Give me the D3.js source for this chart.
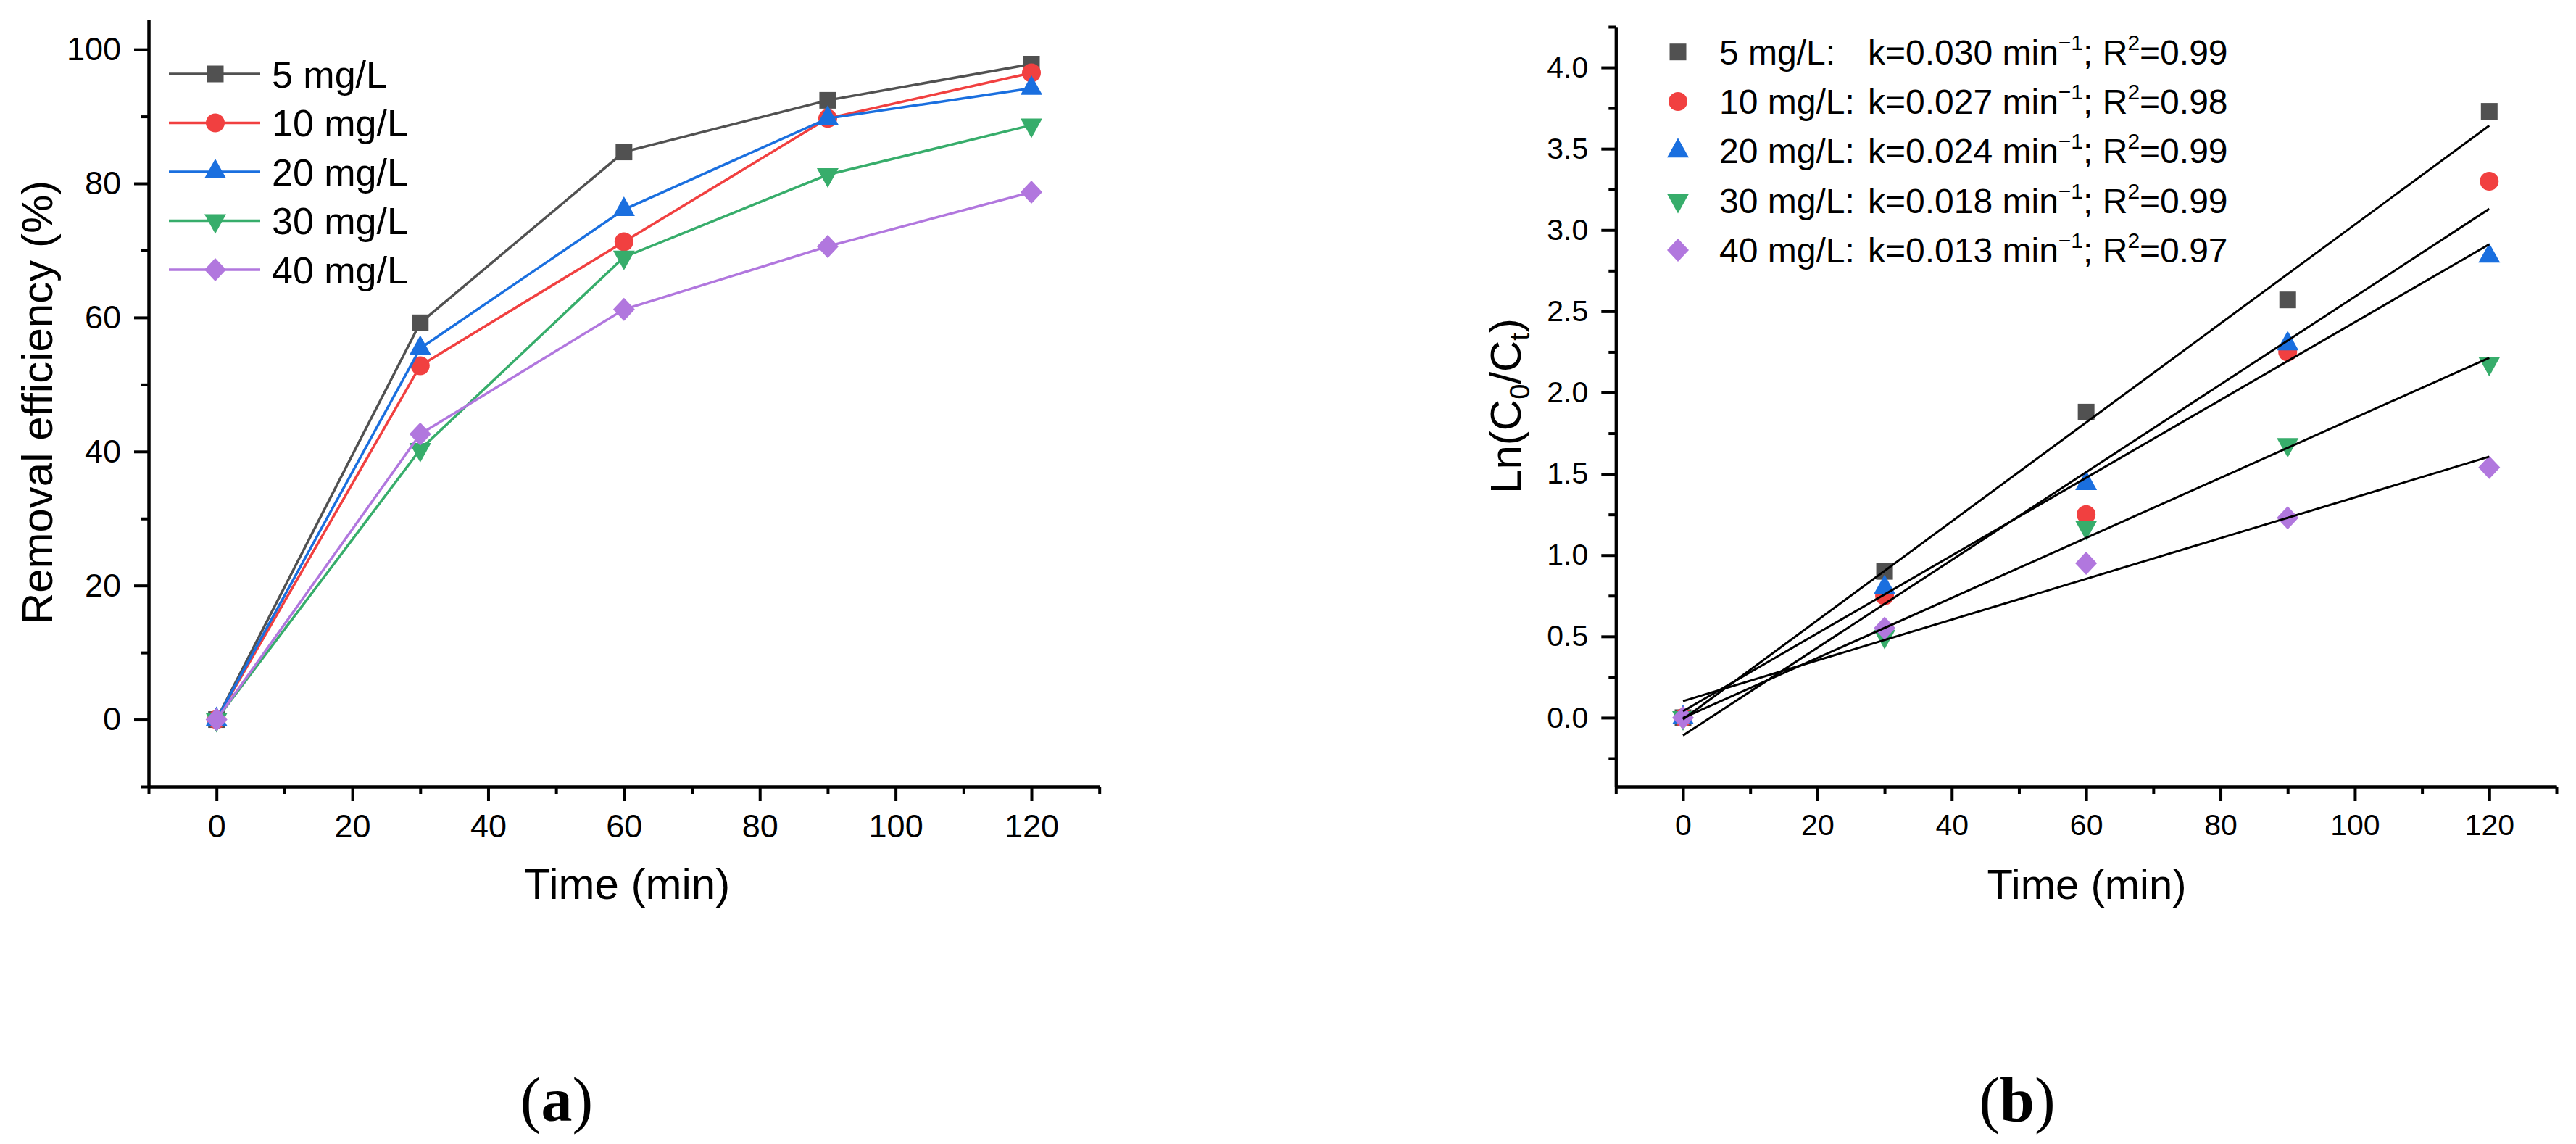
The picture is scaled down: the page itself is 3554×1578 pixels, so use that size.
<!DOCTYPE html>
<html>
<head>
<meta charset="utf-8">
<script src="https://d3js.org/d3.v7.min.js"></script>
<style>
  body { margin: 0; background: #ffffff; }
  text { font-family: "Liberation Sans", Arial, sans-serif; fill: #000; }
</style>
</head>
<body>
<script>
// data
var times = [0, 30, 60, 90, 120];
var concLabels = ["5 mg/L", "10 mg/L", "20 mg/L", "30 mg/L", "40 mg/L"];

// (a) removal efficiency, %
var removal5  = [0, 59.2, 84.7, 92.4, 97.8];
var removal10 = [0, 52.8, 71.3, 89.7, 96.5];
var removal20 = [0, 55.4, 76.1, 89.7, 94.2];
var removal30 = [0, 40.3, 69.0, 81.3, 88.7];
var removal40 = [0, 42.6, 61.2, 70.6, 78.7];

// (b) Ln(C0/Ct)
var lnRatio5  = [0, 0.90, 1.88, 2.57, 3.73];
var lnRatio10 = [0, 0.75, 1.25, 2.25, 3.30];
var lnRatio20 = [0, 0.80, 1.44, 2.30, 2.84];
var lnRatio30 = [0, 0.50, 1.17, 1.68, 2.18];
var lnRatio40 = [0, 0.55, 0.95, 1.23, 1.54];

var kValues  = ["0.030", "0.027", "0.024", "0.018", "0.013"];
var r2Values = ["0.99", "0.98", "0.99", "0.99", "0.97"];

var xTicks = [0, 20, 40, 60, 80, 100, 120];
var xMinorTicks = [-10, 10, 30, 50, 70, 90, 110, 130];
var yTicksA = [0, 20, 40, 60, 80, 100];
var yMinorTicksA = [-10, 10, 30, 50, 70, 90];
var yTicksB = [0, 0.5, 1.0, 1.5, 2.0, 2.5, 3.0, 3.5, 4.0];
var yMinorTicksB = [-0.25, 0.25, 0.75, 1.25, 1.75, 2.25, 2.75, 3.25, 3.75, 4.25];

document.addEventListener("DOMContentLoaded", function(){
  var width = 3554;
  var height = 1578;
  var colors = ["#515151", "#F14040", "#1A6FDF", "#37AD6B", "#B177DE"];
  var shapes = ["square", "circle", "up", "down", "diamond"];
  var removal = [removal5, removal10, removal20, removal30, removal40];
  var lnRatio = [lnRatio5, lnRatio10, lnRatio20, lnRatio30, lnRatio40];

  var svg = d3.select("body").append("svg")
              .attr("width", width)
              .attr("height", height);
  svg.append("rect").attr("width", width).attr("height", height).attr("fill", "#fff");

  // marker shapes, centred on the point (triangles on their centroid)
  function marker(shape) {
    var p = d3.path();
    if (shape == "square") { p.rect(-11.5, -11.5, 23, 23); }
    else if (shape == "circle") { p.arc(0, 0, 13, 0, 2 * Math.PI); }
    else if (shape == "up") { p.moveTo(0, -18); p.lineTo(15, 9); p.lineTo(-15, 9); p.closePath(); }
    else if (shape == "down") { p.moveTo(0, 18); p.lineTo(15, -9); p.lineTo(-15, -9); p.closePath(); }
    else { p.moveTo(0, -16); p.lineTo(15, 0); p.lineTo(0, 16); p.lineTo(-15, 0); p.closePath(); }
    return p.toString();
  }

  function drawAxes(x, y, yMajor, yMinor, fmt, fontSize) {
    var base = y.range()[0];
    var left = x.range()[0];
    var gx = svg.append("g").attr("transform", "translate(0," + base + ")")
      .call(d3.axisBottom(x).tickValues(xTicks).tickSize(20).tickSizeOuter(0).tickPadding(18));
    svg.append("g").attr("transform", "translate(0," + base + ")")
      .call(d3.axisBottom(x).tickValues(xMinorTicks).tickSize(10).tickSizeOuter(0).tickFormat(""));
    var gy = svg.append("g").attr("transform", "translate(" + left + ",0)")
      .call(d3.axisLeft(y).tickValues(yMajor).tickSize(20).tickSizeOuter(0).tickPadding(18).tickFormat(fmt));
    svg.append("g").attr("transform", "translate(" + left + ",0)")
      .call(d3.axisLeft(y).tickValues(yMinor).tickSize(10).tickSizeOuter(0).tickFormat(""));
    svg.selectAll(".domain").style("stroke-width", "4px").style("stroke", "#000");
    svg.selectAll(".tick line").style("stroke-width", "4px").style("stroke", "#000");
    gx.selectAll("text").style("font-size", fontSize + "px").style("font-family", "Liberation Sans, Arial");
    gy.selectAll("text").style("font-size", fontSize + "px").style("font-family", "Liberation Sans, Arial");
  }

  // ---------- (a) ----------
  var xA = d3.scaleLinear().domain([-10, 130]).range([205, 1516.7]);
  var yA = d3.scaleLinear().domain([-10, 104.45]).range([1085, 27]);
  drawAxes(xA, yA, yTicksA, yMinorTicksA, d3.format("d"), 45);

  var lineA = d3.line()
    .x(function(d, i) { return xA(times[i]); })
    .y(function(d) { return yA(d); });

  removal.forEach(function(series, s) {
    svg.append("path").datum(series)
      .attr("d", lineA)
      .attr("fill", "none")
      .attr("stroke", colors[s])
      .attr("stroke-width", 3.5);
    svg.selectAll(null).data(series).enter().append("path")
      .attr("d", marker(shapes[s]))
      .attr("fill", colors[s])
      .attr("transform", function(d, i) { return "translate(" + xA(times[i]) + "," + yA(d) + ")"; });
  });

  concLabels.forEach(function(lab, s) {
    var ly = 102 + s * 67.5;
    svg.append("line").attr("x1", 233).attr("x2", 359).attr("y1", ly).attr("y2", ly)
      .attr("stroke", colors[s]).attr("stroke-width", 3.5);
    svg.append("path").attr("d", marker(shapes[s])).attr("fill", colors[s])
      .attr("transform", "translate(297," + ly + ")");
    svg.append("text").attr("x", 375).attr("y", ly + 18.5)
      .style("font-size", "52px").text(lab);
  });

  svg.append("text").attr("x", 865).attr("y", 1240).attr("text-anchor", "middle")
    .style("font-size", "60px").text("Time (min)");
  svg.append("text").attr("transform", "translate(72,555) rotate(-90)").attr("text-anchor", "middle")
    .style("font-size", "60px").text("Removal efficiency (%)");

  // ---------- (b) ----------
  var xB = d3.scaleLinear().domain([-10, 130]).range([2229.3, 3527]);
  var yB = d3.scaleLinear().domain([-0.424, 4.25]).range([1085, 37]);
  drawAxes(xB, yB, yTicksB, yMinorTicksB, d3.format(".1f"), 41);

  lnRatio.forEach(function(series, s) {
    svg.selectAll(null).data(series).enter().append("path")
      .attr("d", marker(shapes[s]))
      .attr("fill", colors[s])
      .attr("transform", function(d, i) { return "translate(" + xB(times[i]) + "," + yB(d) + ")"; });
  });

  // linear fits of Ln(C0/Ct) vs t
  lnRatio.forEach(function(series) {
    var mx = d3.mean(times), my = d3.mean(series);
    var sxy = d3.sum(times, function(t, i) { return (t - mx) * (series[i] - my); });
    var sxx = d3.sum(times, function(t) { return (t - mx) * (t - mx); });
    var b = sxy / sxx, a = my - b * mx;
    var t0 = times[0], t1 = times[times.length - 1];
    svg.append("line")
      .attr("x1", xB(t0)).attr("y1", yB(a + b * t0))
      .attr("x2", xB(t1)).attr("y2", yB(a + b * t1))
      .attr("stroke", "#000").attr("stroke-width", 3);
  });

  concLabels.forEach(function(lab, s) {
    var ly = 71.7 + s * 68.3;
    svg.append("path").attr("d", marker(shapes[s])).attr("fill", colors[s])
      .attr("transform", "translate(2315," + ly + ")");
    svg.append("text").attr("x", 2372).attr("y", ly + 17)
      .style("font-size", "48px").text(lab + ":");
    var t = svg.append("text").attr("x", 2577).attr("y", ly + 17).style("font-size", "48px");
    t.append("tspan").text("k=" + kValues[s] + " min");
    t.append("tspan").attr("dy", -20).style("font-size", "30px").text("\u22121");
    t.append("tspan").attr("dy", 20).text("; R");
    t.append("tspan").attr("dy", -20).style("font-size", "30px").text("2");
    t.append("tspan").attr("dy", 20).text("=" + r2Values[s]);
  });

  svg.append("text").attr("x", 2879).attr("y", 1240).attr("text-anchor", "middle")
    .style("font-size", "58px").text("Time (min)");
  var yt = svg.append("text").attr("transform", "translate(2098,560) rotate(-90)")
    .attr("text-anchor", "middle").style("font-size", "60px");
  yt.append("tspan").text("Ln(C");
  yt.append("tspan").attr("dy", 12).style("font-size", "38px").text("0");
  yt.append("tspan").attr("dy", -12).text("/C");
  yt.append("tspan").attr("dy", 12).style("font-size", "38px").text("t");
  yt.append("tspan").attr("dy", -12).text(")");

  // panel captions
  [["a", 768], ["b", 2783]].forEach(function(c) {
    var cap = svg.append("text").attr("x", c[1]).attr("y", 1546).attr("text-anchor", "middle")
      .style("font-family", "Liberation Serif, Times New Roman, serif").style("font-size", "86px");
    cap.append("tspan").text("(");
    cap.append("tspan").style("font-weight", "bold").text(c[0]);
    cap.append("tspan").text(")");
  });
});
</script>
</body>
</html>
